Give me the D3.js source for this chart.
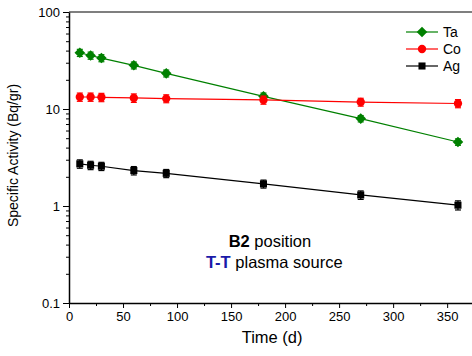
<!DOCTYPE html>
<html>
<head>
<meta charset="utf-8">
<script src="https://cdn.jsdelivr.net/npm/d3@7"></script>
<style>
  body { margin: 0; background: #fff; }
  text { font-family: "Liberation Sans", Arial, sans-serif; }
</style>
</head>
<body>
<div id="chart"></div>
<script>
// data
var days = [10, 20, 30, 60, 90, 180, 270, 360];
var ta = [38, 35.6, 33.5, 28.2, 23.3, 13.5, 7.96, 4.57];
var co = [13.3, 13.3, 13.2, 13.0, 12.8, 12.4, 11.8, 11.4];
var ag = [2.72, 2.63, 2.57, 2.32, 2.17, 1.69, 1.30, 1.02];
var taErr = [3.2, 3.0, 2.8, 2.3, 1.9, 1.1, 0.6, 0.35];
var coErr = [1.3, 1.3, 1.3, 1.3, 1.2, 1.2, 1.1, 1.1];
var agErr = [0.27, 0.26, 0.25, 0.23, 0.21, 0.16, 0.13, 0.11];
var xTicks = [0, 50, 100, 150, 200, 250, 300, 350];
var yTicks = [0.1, 1, 10, 100];
var names = ["Ta", "Co", "Ag"];

function chart() {
  var W = 472, H = 356;
  var margin = {top: 12, right: 0, bottom: 53, left: 69};
  var width = W - margin.left - margin.right, height = H - margin.top - margin.bottom;

  var svg = d3.select("#chart").append("svg")
      .attr("width", W).attr("height", H)
      .append("g")
      .attr("transform", "translate(" + margin.left + "," + margin.top + ")");

  var x = d3.scaleLinear().domain([0, 373]).range([0, width]);
  var y = d3.scaleLog().domain([0.1, 100]).range([height, 0]);

  // x axis
  var minorX = d3.range(25, 375, 50);
  svg.append("g")
    .attr("transform", "translate(0," + height + ")")
    .call(d3.axisBottom(x).tickValues(minorX).tickSize(3).tickFormat(""))
    .call(g => g.select(".domain").remove());
  var xa = svg.append("g")
    .attr("transform", "translate(0," + height + ")")
    .call(d3.axisBottom(x).tickValues(xTicks).tickSize(5).tickSizeOuter(0).tickPadding(4));
  xa.selectAll("text").attr("font-size", 13).attr("fill", "#000");
  xa.select(".domain").attr("stroke-width", 1.5);

  // y axis with log minor ticks
  var minorY = [];
  [0.1, 1, 10].forEach(function(d) { for (var k = 2; k <= 9; k++) minorY.push(d * k); });
  svg.append("g")
    .call(d3.axisLeft(y).tickValues(minorY).tickSize(3).tickFormat(""))
    .call(g => g.select(".domain").remove());
  var ya = svg.append("g")
    .call(d3.axisLeft(y).tickValues(yTicks).tickSize(6).tickSizeOuter(0).tickPadding(3)
      .tickFormat(d => d));
  ya.selectAll("text").attr("font-size", 13).attr("fill", "#000");
  ya.select(".domain").attr("stroke-width", 1.5);

  // top frame line
  svg.append("line")
    .attr("x1", 0).attr("x2", width)
    .attr("y1", y(100)).attr("y2", y(100))
    .attr("stroke", "#000").attr("stroke-width", 1.2);

  // labels
  svg.append("text")
    .attr("transform", "rotate(-90)")
    .attr("x", -(y(1) + y(10)) / 2 + 2)
    .attr("y", -51)
    .attr("text-anchor", "middle")
    .attr("font-size", 14)
    .text("Specific Activity (Bq/gr)");

  svg.append("text")
    .attr("x", x(188)).attr("y", height + 40)
    .attr("text-anchor", "middle")
    .attr("font-size", 16.5)
    .text("Time (d)");

  var t1 = svg.append("text")
    .attr("x", x(186)).attr("y", 235)
    .attr("text-anchor", "middle").attr("font-size", 16.5);
  t1.append("tspan").attr("font-weight", "bold").text("B2");
  t1.append("tspan").text(" position");
  var t2 = svg.append("text")
    .attr("x", x(190)).attr("y", 256)
    .attr("text-anchor", "middle").attr("font-size", 16.5);
  t2.append("tspan").attr("font-weight", "bold").attr("fill", "#1a1aa8").text("T-T");
  t2.append("tspan").text(" plasma source");

  var diamond = {draw: function(ctx, size) {
    var r = Math.sqrt(size) / 1.4;
    ctx.moveTo(0, -r); ctx.lineTo(r, 0); ctx.lineTo(0, r); ctx.lineTo(-r, 0); ctx.closePath();
  }};

  var series = [
    {name: "Ta", vals: ta, err: taErr, color: "#008000", shape: diamond, size: 55},
    {name: "Co", vals: co, err: coErr, color: "#ff0000", shape: d3.symbolCircle, size: 55},
    {name: "Ag", vals: ag, err: agErr, color: "#000000", shape: d3.symbolSquare, size: 50}
  ];

  var line = d3.line()
    .x(d => x(d[0]))
    .y(d => y(d[1]));

  series.forEach(function(s) {
    var pts = days.map((d, i) => [d, s.vals[i], s.err[i]]);
    svg.append("path")
      .datum(pts)
      .attr("fill", "none")
      .attr("stroke", s.color)
      .attr("stroke-width", 1.2)
      .attr("d", line);

    var eb = svg.append("g");
    pts.forEach(function(p) {
      var cx = x(p[0]);
      eb.append("line").attr("x1", cx).attr("x2", cx)
        .attr("y1", y(p[1] - p[2])).attr("y2", y(p[1] + p[2]))
        .attr("stroke", s.color).attr("stroke-width", 1.2);
      [p[1] - p[2], p[1] + p[2]].forEach(function(v) {
        eb.append("line").attr("x1", cx - 3).attr("x2", cx + 3)
          .attr("y1", y(v)).attr("y2", y(v))
          .attr("stroke", s.color).attr("stroke-width", 1.2);
      });
    });

    svg.selectAll(null)
      .data(pts)
      .enter().append("path")
      .attr("d", d3.symbol().type(s.shape).size(s.size))
      .attr("transform", d => "translate(" + x(d[0]) + "," + y(d[1]) + ")")
      .attr("fill", s.color);
  });

  // legend
  var legend = svg.append("g")
    .attr("transform", "translate(" + (406 - margin.left) + "," + (32 - margin.top) + ")");
  series.forEach(function(s, i) {
    var g = legend.append("g").attr("transform", "translate(0," + i * 17 + ")");
    g.append("line").attr("x1", 0).attr("x2", 32).attr("y1", 0).attr("y2", 0)
      .attr("stroke", s.color).attr("stroke-width", 1.2);
    g.append("path")
      .attr("d", d3.symbol().type(s.shape).size(s.size))
      .attr("transform", "translate(16,0)")
      .attr("fill", s.color);
    g.append("text").attr("x", 37).attr("y", 5)
      .attr("font-size", 14).text(s.name);
  });
}

chart();
</script>
</body>
</html>
